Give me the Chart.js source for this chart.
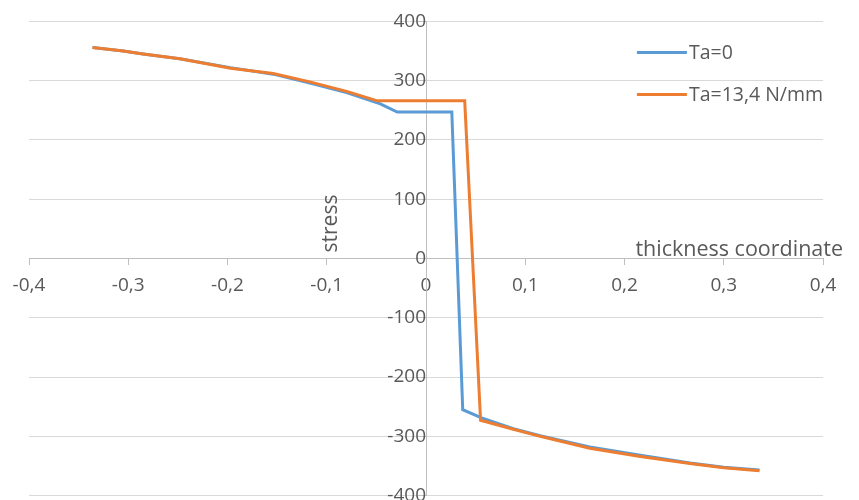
<!DOCTYPE html>
<html>
<head>
<meta charset="utf-8">
<script src="https://cdn.jsdelivr.net/npm/chart.js@4.4.0/dist/chart.umd.min.js"></script>
<style>
  html, body { margin: 0; padding: 0; background: #fff; overflow: hidden; }
  /* canvas a bit taller than the window: the bottom label is cut like in the picture */
  #wrap { width: 859px; height: 523px; margin-top: -3px; }
</style>
</head>
<body>
<div id="wrap"><canvas id="myChart"></canvas></div>
<script>
var seriesNames = ['Ta=0', 'Ta=13,4 N/mm'];
var seriesColors = ['#5B9BD5', '#ED7D31'];

// Ta=0
var x_ta0 = [-0.336, -0.305, -0.285, -0.248, -0.197, -0.154, -0.117, -0.08, -0.046, -0.029, 0.026, 0.037, 0.056, 0.088, 0.115, 0.165, 0.216, 0.266, 0.300, 0.336];
var y_ta0 = [356, 350, 345, 337, 322, 311, 296, 280, 261, 247, 247, -255, -269, -287, -299, -318, -332, -345, -352, -357];

// Ta=13,4 N/mm
var x_ta13 = [-0.336, -0.305, -0.285, -0.248, -0.197, -0.154, -0.117, -0.08, -0.049, 0.039, 0.055, 0.088, 0.115, 0.165, 0.216, 0.266, 0.300, 0.336];
var y_ta13 = [356, 350, 345, 337, 321, 312, 298, 282, 266, 266, -273, -288, -300, -320, -334, -346, -353, -358];

var xTicks = [-0.4, -0.3, -0.2, -0.1, 0, 0.1, 0.2, 0.3, 0.4];
var yTicks = [-400, -300, -200, -100, 0, 100, 200, 300, 400];

var xTitle = 'thickness coordinate';
var yTitle = 'stress';

var fontFamily = "'Open Sans', sans-serif";
var textColor = '#595959';

function toPoints(xs, ys) {
	var pts = [];
	for (var i = 0; i < xs.length; i++) {
		pts.push({ x: xs[i], y: ys[i] });
	}
	return pts;
}

function fmtComma(v) {
	if (v === 0) return '0';
	return v.toFixed(1).replace('.', ',');
}

// axis titles and legend drawn on top
var decor = {
	id: 'decor',
	afterDraw: function(chart) {
		var ctx = chart.ctx;
		var xs = chart.scales.x, ys = chart.scales.y;
		ctx.save();
		ctx.fillStyle = textColor;
		ctx.font = '21px ' + fontFamily;

		// y title (rotated, sits left of the y axis)
		ctx.save();
		ctx.translate(xs.getPixelForValue(-0.0896), ys.getPixelForValue(59));
		ctx.rotate(-Math.PI / 2);
		ctx.textAlign = 'center';
		ctx.textBaseline = 'alphabetic';
		ctx.fillText(yTitle, 0, 0);
		ctx.restore();

		// x title, just above the x axis on the right
		ctx.textAlign = 'left';
		ctx.textBaseline = 'alphabetic';
		ctx.font = '21.5px ' + fontFamily;
		ctx.fillText(xTitle, xs.getPixelForValue(0.211), ys.getPixelForValue(5));

		// legend
		ctx.font = '19.5px ' + fontFamily;
		ctx.textBaseline = 'middle';
		var lx = xs.getPixelForValue(0.2125);
		chart.data.datasets.forEach(function(ds, i) {
			var ly = Math.round(ys.getPixelForValue(349 - i * 71)) + 0.5;
			ctx.strokeStyle = ds.borderColor;
			ctx.lineWidth = 3;
			ctx.beginPath();
			ctx.moveTo(lx, ly);
			ctx.lineTo(lx + 50, ly);
			ctx.stroke();
			ctx.fillStyle = textColor;
			ctx.fillText(ds.label, lx + 52, ly + 1);
		});
		ctx.restore();
	}
};

var config = {
	type: 'scatter',
	data: {
		datasets: [{
			label: seriesNames[0],
			data: toPoints(x_ta0, y_ta0),
			borderColor: seriesColors[0],
			backgroundColor: seriesColors[0],
			showLine: true,
			borderWidth: 3,
			pointRadius: 0,
			tension: 0,
			order: 1
		}, {
			label: seriesNames[1],
			data: toPoints(x_ta13, y_ta13),
			borderColor: seriesColors[1],
			backgroundColor: seriesColors[1],
			showLine: true,
			borderWidth: 3,
			pointRadius: 0,
			tension: 0,
			order: 0
		}]
	},
	options: {
		responsive: true,
		maintainAspectRatio: false,
		animation: false,
		layout: {
			padding: { left: 29, right: 36, top: 18, bottom: 24 }
		},
		plugins: {
			legend: { display: false },
			tooltip: { enabled: false }
		},
		scales: {
			x: {
				type: 'linear',
				position: { y: 0 },
				min: -0.4,
				max: 0.4,
				afterBuildTicks: function(axis) {
					axis.ticks = xTicks.map(function(v) { return { value: v }; });
				},
				ticks: {
					color: textColor,
					font: { family: fontFamily, size: 19 },
					padding: 10,
					maxRotation: 0,
					callback: function(v) { return fmtComma(v); }
				},
				grid: {
					drawOnChartArea: false,
					drawTicks: true,
					tickLength: 6,
					color: '#bfbfbf'
				},
				border: { color: '#bfbfbf', width: 1 }
			},
			y: {
				type: 'linear',
				position: { x: 0 },
				min: -400,
				max: 400,
				afterBuildTicks: function(axis) {
					axis.ticks = yTicks.map(function(v) { return { value: v }; });
				},
				ticks: {
					color: textColor,
					font: { family: fontFamily, size: 19 },
					padding: 13,
					callback: function(v) { return String(v); }
				},
				grid: {
					color: '#d9d9d9',
					lineWidth: 1,
					drawTicks: true,
					tickLength: 8,
					tickColor: '#bfbfbf'
				},
				border: { color: '#bfbfbf', width: 1 }
			}
		}
	},
	plugins: [decor]
};

window.stress_chart = new Chart(document.getElementById('myChart').getContext('2d'), config);
</script>
</body>
</html>
